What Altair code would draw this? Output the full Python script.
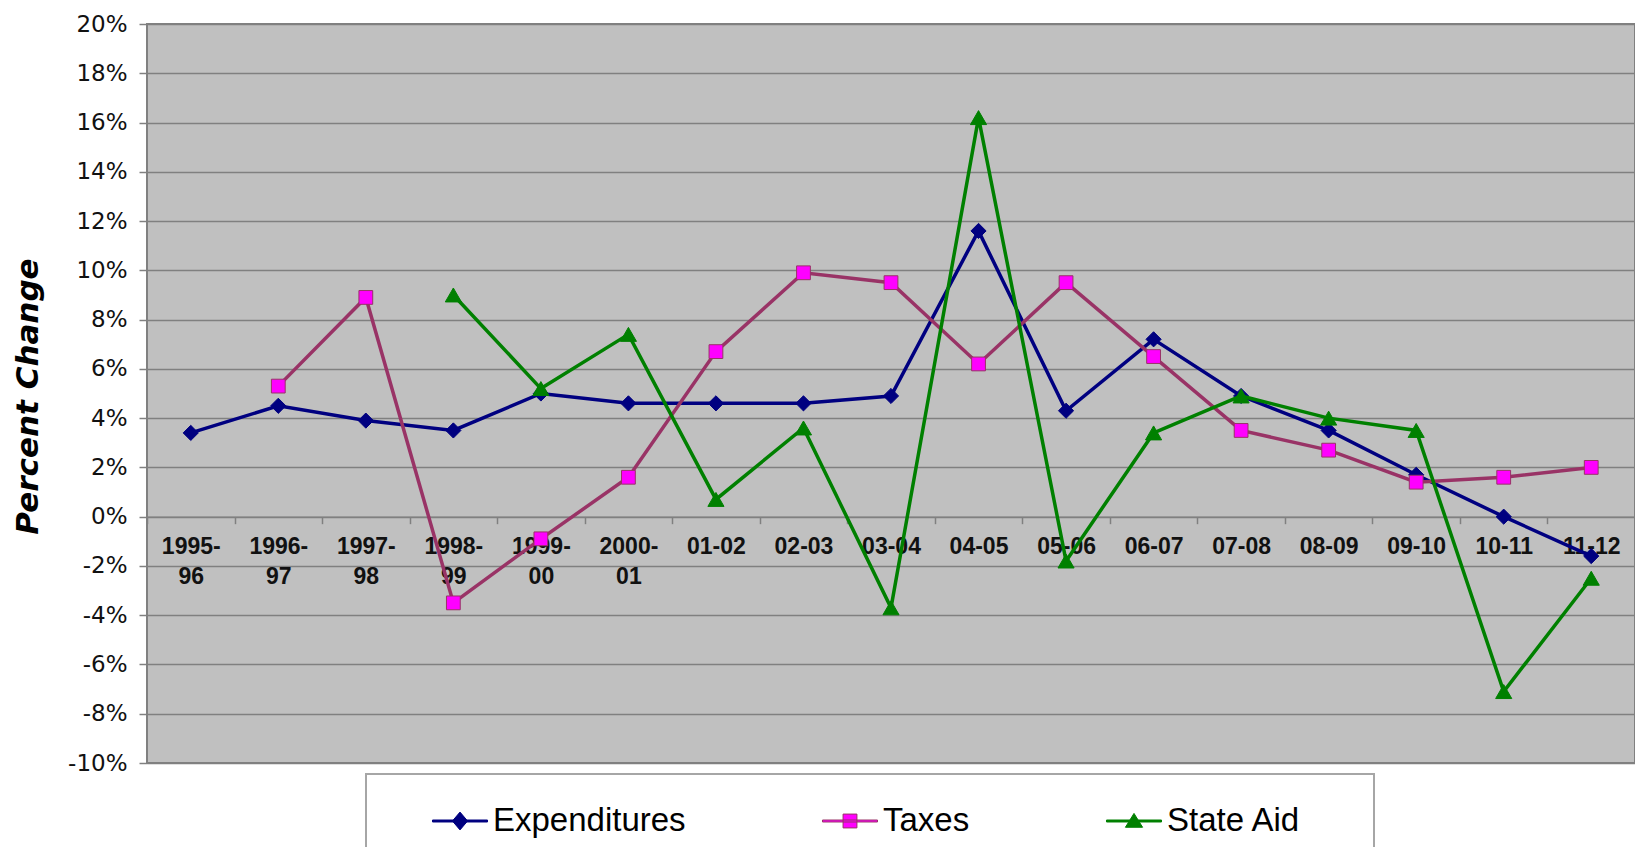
import altair as alt
import pandas as pd

categories = ["1995-96", "1996-97", "1997-98", "1998-99", "1999-00", "2000-01",
              "01-02", "02-03", "03-04", "04-05", "05-06", "06-07", "07-08",
              "08-09", "09-10", "10-11", "11-12"]
expenditures = [3.4, 4.5, 3.9, 3.5, 5.0, 4.6, 4.6, 4.6, 4.9, 11.6, 4.3, 7.2, 4.9, 3.5, 1.7, 0.0, -1.6]
taxes = [None, 5.3, 8.9, -3.5, -0.9, 1.6, 6.7, 9.9, 9.5, 6.2, 9.5, 6.5, 3.5, 2.7, 1.4, 1.6, 2.0]
state_aid = [None, None, None, 9.0, 5.2, 7.4, 0.7, 3.6, -3.7, 16.2, -1.8, 3.4, 4.9, 4.0, 3.5, -7.1, -2.5]

series_names = ["Expenditures", "Taxes", "State Aid"]
line_colors = ["#000080", "#993366", "#008000"]
marker_fills = ["#000080", "#FF00FF", "#008000"]
marker_shapes = ["diamond", "square", "triangle-up"]
marker_sizes = [230, 190, 260]
y_ticks = list(range(-10, 21, 2))

rows = []
for name, vals in zip(series_names, [expenditures, taxes, state_aid]):
    for c, v in zip(categories, vals):
        if v is not None:
            rows.append({"period": c, "series": name, "pct": v})
df = pd.DataFrame(rows)

W, H = 1488, 739

# legend symbols: a short line with the marker on it (unit = half the nominal symbol width)
line_part = "M-1.667,-0.06H1.667V0.06H-1.667Z"
legend_paths = [
    line_part + "M0,-0.54L0.46,0L0,0.54L-0.46,0Z",
    line_part + "M-0.42,-0.42H0.42V0.42H-0.42Z",
    line_part + "M0,-0.46L0.52,0.38H-0.52Z",
]

x_enc = alt.X(
    "period:N", sort=categories, bandPosition=0.5,
    scale=alt.Scale(type="band", domain=categories, paddingInner=0, paddingOuter=0),
    axis=alt.Axis(
        title=None, offset=-H / 3, domainColor="#808080", domainWidth=1.5,
        tickBand="extent", tickColor="#808080", tickSize=7, tickWidth=1.5,
        grid=False, labelAngle=0, labelFont="Liberation Sans", labelFontSize=23,
        labelFontWeight="bold", labelColor="#111111", labelPadding=12,
        labelLineHeight=30, labelBaseline="top", labelOverlap=False,
        labelExpr="length(datum.label) > 5 ? [slice(datum.label, 0, 5), slice(datum.label, 5)] : datum.label",
    ),
)
y_enc = alt.Y(
    "pct:Q",
    scale=alt.Scale(domain=[-10, 20], nice=False, zero=False),
    axis=alt.Axis(
        title="Percent Change", values=y_ticks, labelExpr="datum.value + '%'",
        grid=True, gridColor="#808080", gridWidth=1.5, domain=False,
        tickColor="#808080", tickSize=8, tickWidth=1.5,
        labelFont="DejaVu Sans", labelFontSize=23, labelColor="#111111", labelPadding=12,
        titleFont="DejaVu Sans", titleFontSize=31, titleFontStyle="italic",
        titleFontWeight="bold", titleColor="black", titleAngle=270,
        titleX=-119, titleY=372, titleAlign="center", titleBaseline="middle",
    ),
)

stroke_scale = alt.Scale(domain=series_names, range=line_colors)
fill_scale = alt.Scale(domain=series_names, range=marker_fills)
shape_scale = alt.Scale(domain=series_names, range=legend_paths)

layers = []
for i, name in enumerate(series_names):
    base = alt.Chart(df).transform_filter(alt.datum.series == name)
    layers.append(
        base.mark_line(strokeWidth=3.5, color=line_colors[i]).encode(x=x_enc, y=y_enc)
    )
    layers.append(
        base.mark_point(shape=marker_shapes[i], size=marker_sizes[i], filled=True,
                        fill=marker_fills[i], stroke=line_colors[i],
                        strokeWidth=1, opacity=1).encode(x=x_enc, y=y_enc)
    )

def make_legend():
    return alt.Legend(
        title="\u00a0", titleOrient="left", titlePadding=47, titleFontSize=1,
        orient="none", legendX=219, legendY=750, direction="horizontal",
        symbolSize=1089, symbolStrokeWidth=1, symbolOpacity=1,
        labelFont="Liberation Sans", labelFontSize=33, labelColor="black",
        labelOffset=16, columnPadding=134, padding=30,
        strokeColor="#A6A6A6", fillColor="white", labelLimit=500,
        labelExpr="datum.label == 'State Aid' ? 'State Aid\u00a0\u00a0\u2800' : datum.label",
    )

legend_layer = alt.Chart(df).mark_point(filled=True, opacity=0, size=50).encode(
    x=x_enc, y=y_enc,
    fill=alt.Fill("series:N", scale=fill_scale, legend=make_legend()),
    stroke=alt.Stroke("series:N", scale=stroke_scale, legend=make_legend()),
    shape=alt.Shape("series:N", scale=shape_scale, legend=make_legend()),
)
layers.append(legend_layer)

chart = alt.layer(*layers).properties(
    width=W, height=H,
    padding={"left": 139, "top": 16, "right": 0, "bottom": 84},
    autosize=alt.AutoSizeParams(type="none"),
    background="white",
).configure_view(
    fill="#C0C0C0", stroke="#808080", strokeWidth=2
).configure_legend(strokeWidth=2)

chart.save("out.html", embed_options={"renderer": "svg", "actions": False})
